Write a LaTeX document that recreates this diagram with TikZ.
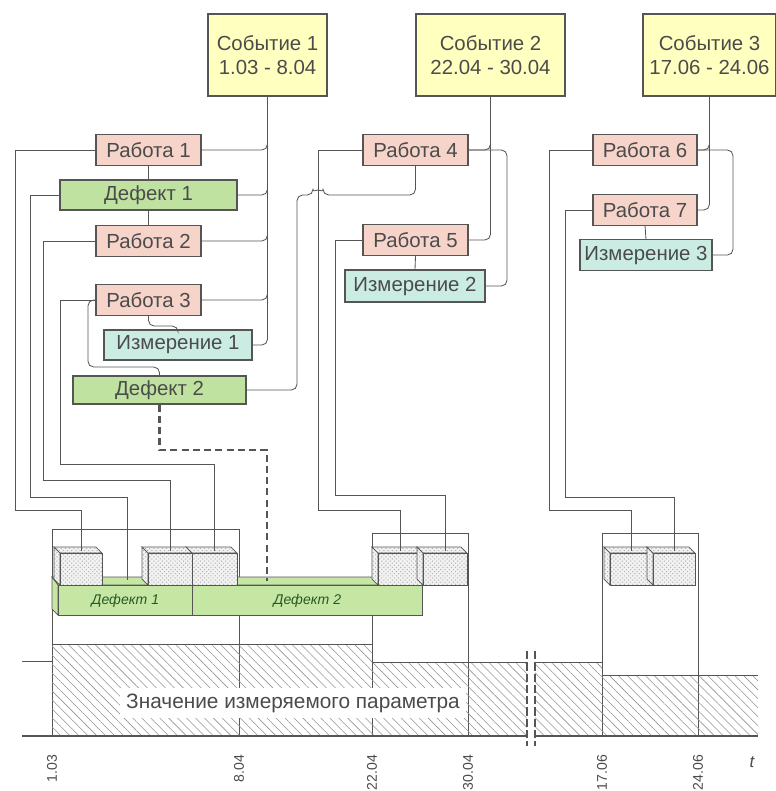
\documentclass[tikz,border=0pt]{standalone}
\usepackage{fontspec}
\setmainfont{Liberation Sans}
\usetikzlibrary{patterns, patterns.meta}
\definecolor{evfill}{RGB}{255,255,192}
\definecolor{workfill}{RGB}{246,212,202}
\definecolor{deffill}{RGB}{192,226,160}
\definecolor{izmfill}{RGB}{202,236,226}
\definecolor{barfill}{RGB}{198,230,164}
\definecolor{linegray}{RGB}{85,85,85}
\definecolor{txtgray}{RGB}{75,75,75}
\tikzstyle{box}     = [rectangle, draw=linegray, line width=0.8pt, text=txtgray,
                       inner sep=0pt, minimum height=0.775cm,
                       font=\fontsize{14.5}{17}\selectfont]
\tikzstyle{event}   = [box, fill=evfill, minimum width=2.975cm, minimum height=2.05cm, align=center]
\tikzstyle{work}    = [box, fill=workfill, minimum width=2.625cm]
\tikzstyle{defect}  = [box, fill=deffill]
\tikzstyle{measure} = [box, fill=izmfill]
\tikzstyle{defbar}  = [rectangle, draw=linegray, line width=0.5pt, fill=barfill, inner sep=0pt,
                       minimum height=0.75cm, text=gray!60!green!50!black,
                       font=\fontsize{10}{12}\selectfont\itshape]
\tikzstyle{link}    = [draw=linegray, line width=0.6pt]
\tikzstyle{buslink} = [link, rounded corners=4pt]
\tikzstyle{dashlink}= [draw=linegray, line width=1.5pt, dash pattern=on 5pt off 3pt]
\tikzstyle{hatched} = [pattern={Lines[angle=-45, distance=4.5pt, line width=0.4pt]}, pattern color=gray!85]
\tikzstyle{dotbox}  = [draw=linegray, line width=0.5pt, preaction={fill=gray!10},
                       pattern=crosshatch dots, pattern color=gray!60]
\tikzstyle{datelabel} = [rotate=90, anchor=east, text=txtgray, font=\fontsize{10}{12}\selectfont]
% block of a work on the time line: name, left x, right x
\newcommand{\blok}[3]{%
  \draw[dotbox] (#2-6,547) -- (#3-6,547) -- (#3,553) -- (#2,553) -- cycle;
  \draw[dotbox] (#2-6,547) -- (#2,553) -- (#2,585) -- (#2-6,579) -- cycle;
  \draw[dotbox] (#2,553) rectangle (#3,585);
  \coordinate (#1) at ({(#2+#3)/2},551);}

\begin{document}
\begin{tikzpicture}[x=0.025cm, y=-0.025cm]
\useasboundingbox (0,0) rectangle (776,791);
% events
\node (ev1) [event] at (267.5,55) {Событие 1\\1.03 - 8.04};
\node (ev2) [event, minimum width=3.725cm] at (490.5,55) {Событие 2\\22.04 - 30.04};
\node (ev3) [event, minimum width=3.325cm] at (709.5,55) {Событие 3\\17.06 - 24.06};
% works, defects, measurements
\node (rab1) [work] at (148.5,150) {Работа 1};
\node (def1) [defect, minimum width=4.425cm, minimum height=0.75cm] at (148.5,195) {Дефект 1};
\node (rab2) [work] at (148.5,241) {Работа 2};
\node (rab3) [work] at (148.5,300) {Работа 3};
\node (izm1) [measure, minimum width=3.7cm, minimum height=0.75cm] at (178,345) {Измерение 1};
\node (def2) [defect, minimum width=4.325cm, minimum height=0.7cm] at (159.5,390) {Дефект 2};
\node (rab4) [work] at (415.5,150) {Работа 4};
\node (rab5) [work] at (415.5,240) {Работа 5};
\node (izm2) [measure, minimum width=3.5cm, minimum height=0.8cm] at (415,286) {Измерение 2};
\node (rab6) [work, minimum width=2.6cm] at (645,150) {Работа 6};
\node (rab7) [work, minimum width=2.6cm] at (645,210) {Работа 7};
\node (izm3) [measure, minimum width=3.3cm] at (646,255) {Измерение 3};

% time line: event frames and measured value
\draw[link] (52,529) rectangle (239,736);
\draw[link] (372,533) rectangle (468,736);
\draw[link] (602,533) rectangle (698,736);
\fill[hatched] (52,644) rectangle (372,736);
\fill[hatched] (372,662) rectangle (602,736);
\fill[hatched] (602,675) rectangle (758,736);
\draw[link] (52,644) -- (372,644);
\draw[link] (372,662) -- (602,662);
\draw[link] (602,675) -- (758,675);
\draw[link] (22,661) -- (52,661);
\node (value) [fill=white, inner sep=0pt, minimum width=8.65cm, minimum height=0.75cm,
  text=txtgray, font=\fontsize{14.8}{17}\selectfont] at (293,703) {Значение измеряемого параметра};

% defect bars
\fill[barfill, draw=linegray, line width=0.5pt] (52,577) -- (416,577) -- (422,585) -- (58,585) -- cycle;
\fill[barfill, draw=linegray, line width=0.5pt] (52,577) -- (58,585) -- (58,615) -- (52,609) -- cycle;
\node (bar1) [defbar, minimum width=3.35cm, anchor=north west] at (58,585) {Дефект 1};
\node (bar2) [defbar, minimum width=5.75cm, anchor=north west] at (192,585) {Дефект 2};
\coordinate (c1) at (127,580);
\coordinate (c2) at (267,581);

% work blocks
\blok{b1}{60}{102}
\blok{b3}{192}{237}
\blok{b2}{148}{192}
\blok{b4}{378}{423}
\blok{b5}{423}{467}
\blok{b6}{610}{653}
\blok{b7}{653}{695}

% axis with break
\draw[draw=linegray, line width=1.3pt] (22,736) -- (758,736);
\fill[white] (527,648) rectangle (535,748);
\draw[dashlink, line width=1pt, dash pattern=on 6pt off 2pt] (527,651) -- (527,746);
\draw[dashlink, line width=1pt, dash pattern=on 6pt off 2pt] (535,651) -- (535,746);
\node (d1) [datelabel] at (52,750) {1.03};
\node (d2) [datelabel] at (239,750) {8.04};
\node (d3) [datelabel] at (372,750) {22.04};
\node (d4) [datelabel] at (468,750) {30.04};
\node (d5) [datelabel] at (602,750) {17.06};
\node (d6) [datelabel] at (698,750) {24.06};
\node (t) [text=txtgray, font=\fontsize{12}{14}\selectfont\itshape] at (752,762) {t};

% event 1
\draw[buslink] (rab1.east) -| (ev1.south);
\draw[buslink] (def1.east) -| (ev1.south);
\draw[buslink] (rab2.east) -| (ev1.south);
\draw[buslink] (rab3.east) -| (ev1.south);
\draw[buslink] (izm1.east) -| (ev1.south);
\draw[link] (rab1.south) -- (def1.north);
\draw[link] (def1.south) -- (rab2.north);
\draw[buslink] (rab3.south) -- ++(0,10) -| (izm1.north);
\draw[buslink] (def2.north) |- (88,367) |- (rab3.west);
\draw[link] (rab1.west) -| (15,510) -| (b1);
\draw[link] (def1.west) -| (30,497) -| (c1);
\draw[link] (rab2.west) -| (43,480) -| (b2);
\draw[link] (rab3.west) -| (60,464) -| (b3);
\draw[dashlink] (def2.south) |- (267,450) -- (c2);
% event 2
\coordinate (k2) at (507,286);
\draw[buslink] (rab4.east) -| (ev2.south);
\draw[buslink] (rab5.east) -| (ev2.south);
\draw[buslink] (rab4.east) -| (k2) -- (izm2.east);
\draw[link] (rab5.south) -- (izm2.north);
\draw[buslink] (rab4.south) |- (323,195) arc[start angle=0, end angle=-180, radius=5] -- (297,195) |- (def2.east);
\draw[link] (rab4.west) -| (318,510) -| (b4);
\draw[link] (rab5.west) -| (335,495) -| (b5);
% event 3
\coordinate (k3) at (733,255);
\draw[buslink] (rab6.east) -| (ev3.south);
\draw[buslink] (rab7.east) -| (ev3.south);
\draw[buslink] (rab6.east) -| (k3) -- (izm3.east);
\draw[link] (rab7.south) -- (izm3.north);
\draw[link] (rab6.west) -| (549,510) -| (b6);
\draw[link] (rab7.west) -| (565,497) -| (b7);
\end{tikzpicture}
\end{document}
